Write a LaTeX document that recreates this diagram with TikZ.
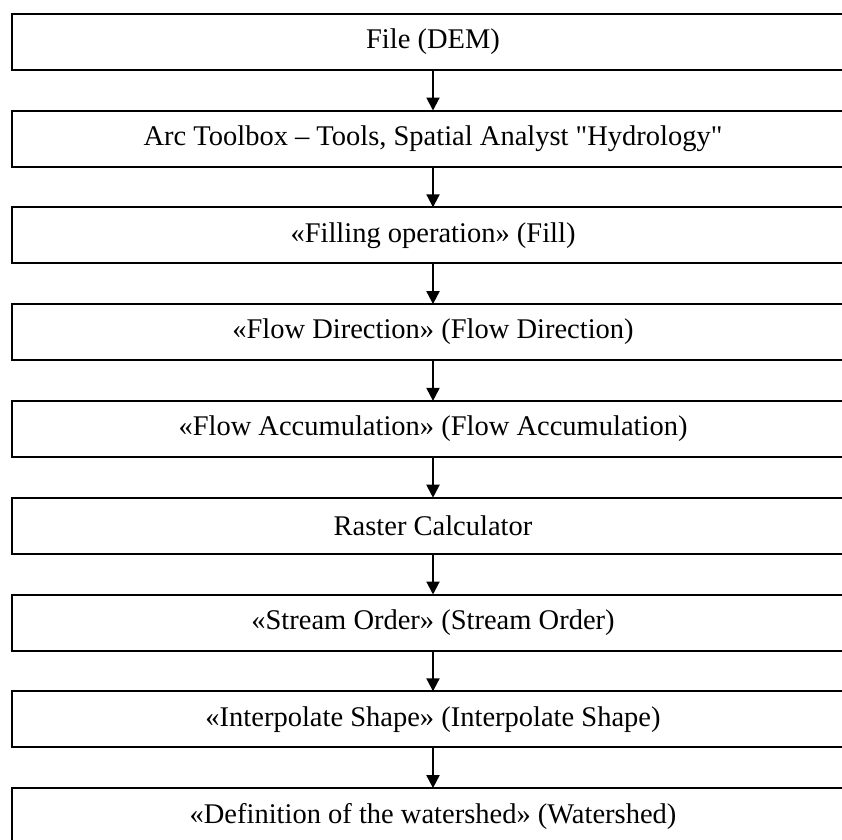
\documentclass[tikz,border=0pt]{standalone}
\usepackage{fontspec}
\setmainfont{Liberation Serif}[Ligatures=TeXOff]
\usepackage{tikz}
\usetikzlibrary{positioning,arrows.meta}

\tikzset{
   stepbox/.style={draw, line width=2pt, minimum width=843pt,
      minimum height=56pt, inner sep=0pt, anchor=north,
      font=\fontsize{28.5}{32}\selectfont},
   flowarrow/.style={line width=2pt, -{Triangle[length=13pt,width=13pt]}, shorten >=-1pt}
}

\begin{document}
\begin{tikzpicture}[x=1pt,y=1pt,node distance=38.8pt]
      \useasboundingbox (0,0) rectangle (842,-839);
      \clip (0,0) rectangle (842,-839);

         % input file
         \node[stepbox] at (433,-12.7)     (n0) {File (DEM)};
         \node[stepbox, below=of n0]       (n1) {Arc Toolbox – Tools, Spatial Analyst "Hydrology"};

         % hydrology tools
         \node[stepbox, below=of n1]       (n2) {«Filling operation» (Fill)};
         \node[stepbox, below=of n2]       (n3) {«Flow Direction» (Flow Direction)};
         \node[stepbox, below=of n3]       (n4) {«Flow Accumulation» (Flow Accumulation)};
         \node[stepbox, below=of n4]       (n5) {Raster Calculator};
         \node[stepbox, below=of n5]       (n6) {«Stream Order» (Stream Order)};
         \node[stepbox, below=of n6]       (n7) {«Interpolate Shape» (Interpolate Shape)};

         % result
         \node[stepbox, below=of n7]       (n8) {«Definition of the watershed» (Watershed)};

         \draw[flowarrow] (n0) -- (n1);
         \draw[flowarrow] (n1) -- (n2);
         \draw[flowarrow] (n2) -- (n3);
         \draw[flowarrow] (n3) -- (n4);
         \draw[flowarrow] (n4) -- (n5);
         \draw[flowarrow] (n5) -- (n6);
         \draw[flowarrow] (n6) -- (n7);
         \draw[flowarrow] (n7) -- (n8);
\end{tikzpicture}
\end{document}
